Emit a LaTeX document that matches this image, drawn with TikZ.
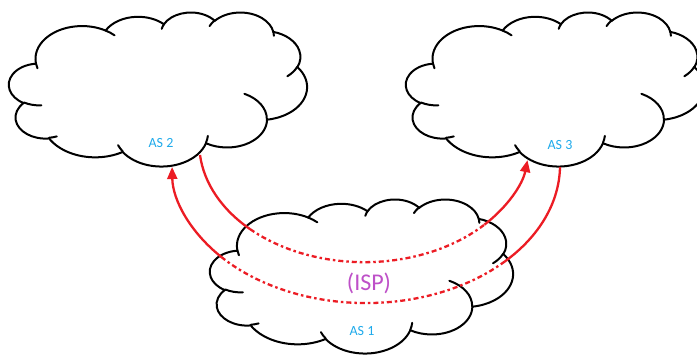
\documentclass[tikz,border=0pt]{standalone}
\usepackage{fontspec}
\setmainfont{Carlito}
\usetikzlibrary{arrows.meta}
\definecolor{asblue}{RGB}{30,170,235}
\definecolor{isppurple}{RGB}{190,80,200}
\definecolor{arrred}{RGB}{236,28,36}
% one arc of the cloud outline: x radius, y radius, start angle, sweep (visual angles)
\newcommand\cldarc[4]{%
  \pgfextra{%
    \pgfmathparse{atan2((#1)*sin(#3),(#2)*cos(#3))}\xdef\cldA{\pgfmathresult}%
    \pgfmathparse{atan2((#1)*sin((#3)+(#4)),(#2)*cos((#3)+(#4)))}\xdef\cldB{\pgfmathresult}%
    \pgfmathparse{\cldB+360*(\cldB<\cldA)}\xdef\cldB{\pgfmathresult}%
  }%
  arc[x radius=#1pt, y radius=#2pt, start angle=\cldA, end angle=\cldB]%
}
% cloud: top-left x, top-left y, x scale
\newcommand\officecloud[3]{%
  \begin{scope}[shift={(#1,#2)}, xscale=#3, yscale=-3.5648]
    \draw[cloudline, fill=white] (3.900,14.370)
      \cldarc{6.753}{9.190}{-190.4875}{123.7805}
      \cldarc{5.333}{7.267}{-144.1024}{89.9452}
      \cldarc{4.365}{5.945}{-145.8079}{99.7230}
      \cldarc{4.857}{6.595}{-130.9861}{117.2417}
      \cldarc{5.333}{7.273}{-78.7089}{109.0269}
      \cldarc{6.775}{9.220}{-46.2673}{130.2690}
      \cldarc{5.785}{7.867}{0.6250}{114.0333}
      \cldarc{6.752}{9.215}{22.4516}{115.1726}
      \cldarc{7.720}{10.543}{66.2426}{75.7110}
      \cldarc{4.360}{5.918}{-274.9421}{146.7356}
      \cldarc{4.345}{5.945}{-246.8285}{152.5189}
      -- cycle;
    \draw[cloudline]
      (4.693,26.177) \cldarc{4.345}{5.945}{86.7420}{26.4295}
      (6.928,34.899) \cldarc{4.360}{5.918}{73.6105}{11.4475}
      (16.478,39.090) \cldarc{6.752}{9.215}{137.6242}{14.0811}
      (28.827,34.751) \cldarc{6.752}{9.215}{6.4533}{15.9984}
      (34.129,22.954) \cldarc{5.785}{7.867}{-70.2924}{70.9174}
      (41.798,15.354) \cldarc{5.333}{7.273}{30.3180}{27.7515}
      (38.324,5.426) \cldarc{4.857}{6.595}{-13.7443}{14.8589}
      (29.078,3.952) \cldarc{4.857}{6.595}{-149.1815}{18.1954}
      (22.141,4.720) \cldarc{4.365}{5.945}{-163.4943}{17.6864}
      (14.000,5.192) \cldarc{6.753}{9.190}{-66.7070}{12.3194}
      (4.127,15.789) \cldarc{6.753}{9.190}{157.6544}{11.8582};
  \end{scope}%
}
\tikzset{
  cloudline/.style={draw=black, line width=2pt, line cap=round},
  redline/.style={draw=arrred, line width=2.3pt},
  reddash/.style={dash pattern=on 5pt off 3pt on 2.5pt off 3pt},
  redtip/.style={-{Triangle[length=12pt,width=10pt]}},
  aslabel/.style={text=asblue, font=\fontsize{14}{17}\selectfont, inner sep=0pt},
  isplabel/.style={text=isppurple, font=\fontsize{24}{28}\selectfont, inner sep=0pt}
}
\begin{document}
\begin{tikzpicture}[x=1pt,y=1pt]
  \useasboundingbox (0,0) rectangle (697,354);
  \fill[white] (0,0) rectangle (697,354);
  \clip (0,0) rectangle (697,354);
  % clouds
  \officecloud{9}{342}{6.898}
  \officecloud{406}{342}{6.898}
  \officecloud{210}{155}{7.014}
  % labels
  \node[aslabel] (as2) at (161,211) {AS 2};
  \node[aslabel] (as3) at (560,209) {AS 3};
  \node[aslabel] (as1) at (362,23) {AS 1};
  \node[isplabel] (isp) at (369,71) {(ISP)};
  % connector ends
  \coordinate (as2out) at (200,199);
  \coordinate (as3out) at (560,187);
  % AS 2 -> AS 3 through AS 1
  \draw[redline] (as2out) arc[x radius=165pt, y radius=119pt, start angle=185.7, end angle=226.3] coordinate (upin);
  \draw[redline, reddash] (upin) arc[x radius=165pt, y radius=119pt, start angle=226.3, end angle=316.8] coordinate (upout);
  \draw[redline, redtip] (upout) arc[x radius=165pt, y radius=119pt, start angle=316.8, end angle=351.8];
  % AS 3 -> AS 2 through AS 1
  \draw[redline] (as3out) arc[x radius=194pt, y radius=138pt, start angle=-0.8, end angle=-44.3] coordinate (lowin);
  \draw[redline, reddash] (lowin) arc[x radius=194pt, y radius=138pt, start angle=-44.3, end angle=-138.2] coordinate (lowout);
  \draw[redline, redtip] (lowout) arc[x radius=194pt, y radius=138pt, start angle=-138.2, end angle=-179.2];
\end{tikzpicture}
\end{document}
